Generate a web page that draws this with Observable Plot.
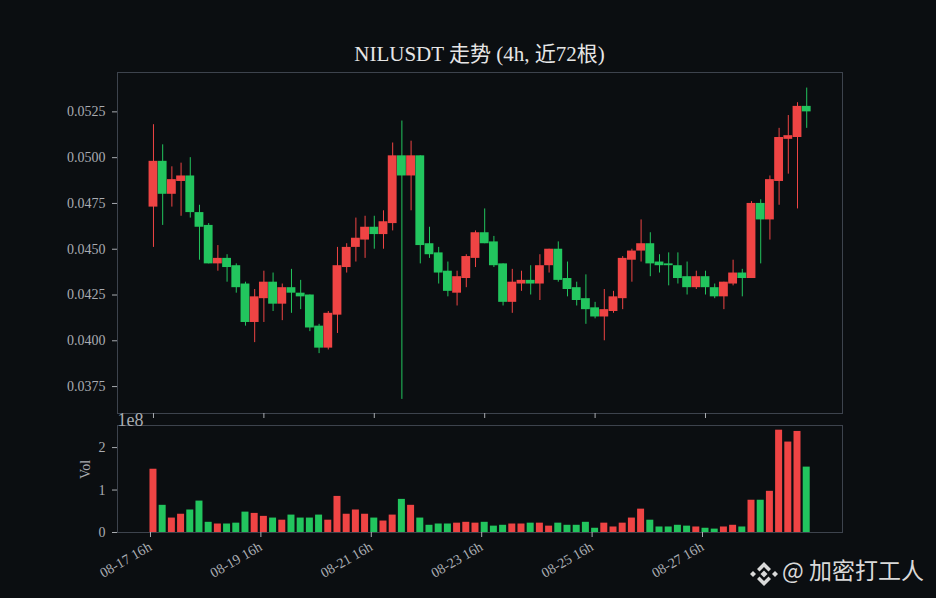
<!DOCTYPE html>
<html>
<head>
<meta charset="utf-8">
<script src="https://cdn.jsdelivr.net/npm/d3@7"></script>
<script src="https://cdn.jsdelivr.net/npm/@observablehq/plot@0.6"></script>
<style>
  html, body { margin: 0; padding: 0; background: #0b0e11; }
  #root { position: relative; width: 936px; height: 598px; background: #0b0e11; overflow: hidden; }
  #root svg { position: absolute; left: 0; overflow: visible; }
  #title { position: absolute; left: 117px; width: 725px; top: 44px; text-align: center;
    font: 21px/21px "Liberation Serif", "Noto Sans CJK SC", serif; color: #e6e6e6; white-space: nowrap; }
  #wm { position: absolute; left: 750px; top: 558px; height: 26px; color: #d9d9d9; white-space: nowrap;
    font: 23px/23px "Noto Sans CJK SC", "Noto Sans", sans-serif; }
  #wm svg { position: absolute; left: 0; top: 2px; }
  #wm span { position: absolute; left: 32px; top: 0; }
</style>
</head>
<body>
<div id="root">
  <div id="title">NILUSDT 走势 (4h, 近72根)</div>
  <div id="wm">
    <svg width="28" height="28" viewBox="0 0 28 28">
      <g fill="#d9d9d9">
        <polygon points="3,11 6,14 3,17 0,14"/>
        <polygon points="25,11 28,14 25,17 22,14"/>
        <polygon points="14,10.5 17.5,14 14,17.5 10.5,14"/>
        <polygon points="14,2 21,9 18.5,11.5 14,7 9.5,11.5 7,9"/>
        <polygon points="14,26 21,19 18.5,16.5 14,21 9.5,16.5 7,19"/>
      </g>
    </svg>
    <span>@ 加密打工人</span>
  </div>
</div>
<script>
// ---- data (4h candles, 08-17 16h .. 08-29 12h) ----
const open = [0.0473,0.0498,0.0480,0.0487,0.0490,0.0470,0.0463,0.0442,0.0445,0.0441,0.0431,0.0410,0.0423,0.0432,0.0420,0.0429,0.0426,0.0425,0.0408,0.0396,0.0414,0.0440,0.0451,0.0455,0.0462,0.0458,0.0464,0.0501,0.0490,0.0501,0.0453,0.0448,0.0438,0.0426,0.0434,0.0445,0.0459,0.0454,0.0442,0.0421,0.0431,0.0433,0.0431,0.0441,0.0450,0.0434,0.0429,0.0423,0.0418,0.0413,0.0416,0.0423,0.0444,0.0449,0.0453,0.0443,0.0442,0.0441,0.0435,0.0429,0.0435,0.0429,0.0424,0.0431,0.0437,0.0434,0.0475,0.0466,0.0487,0.0510,0.0511,0.0528];
const high = [0.0518,0.0507,0.0495,0.0497,0.0500,0.0474,0.0464,0.0452,0.0447,0.0442,0.0432,0.0428,0.0438,0.0437,0.0431,0.0439,0.0433,0.0425,0.0409,0.0416,0.0451,0.0453,0.0467,0.0468,0.0468,0.0471,0.0508,0.0520,0.0509,0.0501,0.0462,0.0451,0.0443,0.0438,0.0447,0.0460,0.0472,0.0457,0.0442,0.0439,0.0438,0.0441,0.0447,0.0450,0.0454,0.0443,0.0432,0.0436,0.0421,0.0428,0.0427,0.0446,0.0450,0.0466,0.0459,0.0447,0.0448,0.0448,0.0443,0.0438,0.0438,0.0431,0.0432,0.0444,0.0439,0.0476,0.0477,0.0490,0.0516,0.0523,0.0530,0.0538];
const low = [0.0451,0.0463,0.0473,0.0468,0.0467,0.0444,0.0442,0.0438,0.0432,0.0426,0.0408,0.0399,0.0410,0.0416,0.0411,0.0415,0.0417,0.0405,0.0393,0.0395,0.0404,0.0437,0.0443,0.0445,0.0450,0.0450,0.0460,0.0368,0.0471,0.0442,0.0445,0.0431,0.0424,0.0419,0.0429,0.0440,0.0453,0.0440,0.0419,0.0415,0.0427,0.0425,0.0422,0.0437,0.0432,0.0424,0.0419,0.0409,0.0412,0.0400,0.0415,0.0417,0.0432,0.0443,0.0435,0.0437,0.0430,0.0431,0.0425,0.0428,0.0425,0.0423,0.0417,0.0430,0.0424,0.0434,0.0442,0.0455,0.0474,0.0491,0.0472,0.0516];
const close = [0.0498,0.0480,0.0488,0.0490,0.0470,0.0462,0.0442,0.0445,0.0440,0.0429,0.0410,0.0424,0.0432,0.0420,0.0429,0.0426,0.0424,0.0407,0.0396,0.0415,0.0441,0.0451,0.0456,0.0462,0.0458,0.0465,0.0501,0.0490,0.0501,0.0452,0.0447,0.0437,0.0427,0.0435,0.0446,0.0459,0.0453,0.0441,0.0421,0.0432,0.0433,0.0431,0.0441,0.0450,0.0433,0.0428,0.0422,0.0417,0.0413,0.0417,0.0424,0.0445,0.0449,0.0453,0.0442,0.0441,0.0441,0.0434,0.0429,0.0435,0.0429,0.0424,0.0432,0.0437,0.0434,0.0475,0.0466,0.0488,0.0511,0.0512,0.0528,0.0525];
const volume = [149e6,64e6,34e6,43e6,53e6,74e6,24e6,20e6,20e6,22e6,48e6,45e6,38e6,34e6,29e6,41e6,34e6,34e6,41e6,29e6,85e6,43e6,53e6,43e6,34e6,27e6,41e6,78e6,64e6,34e6,17e6,20e6,20e6,22e6,24e6,22e6,24e6,15e6,17e6,20e6,20e6,22e6,22e6,15e6,22e6,17e6,17e6,24e6,10e6,22e6,13e6,22e6,34e6,55e6,29e6,13e6,13e6,17e6,15e6,13e6,10e6,8e6,13e6,17e6,13e6,76e6,76e6,97e6,241e6,213e6,238e6,154e6];
const tickIdx = [0, 12, 24, 36, 48, 60];
const tickLabels = ["08-17 16h", "08-19 16h", "08-21 16h", "08-23 16h", "08-25 16h", "08-27 16h"];
const priceTicks = [0.0375, 0.0400, 0.0425, 0.0450, 0.0475, 0.0500, 0.0525];
const volTicks = [0, 1e8, 2e8];

const UP = "#ef4444", DOWN = "#22c55e";
const idx = d3.range(open.length);
const col = i => close[i] >= open[i] ? UP : DOWN;
const xDomain = [-3.91, 74.89];
const font = `"Liberation Serif", "Noto Sans CJK SC", serif`;
const style = {background: "transparent", color: "#a9acb1", fontFamily: font, fontSize: "14px", overflow: "visible"};

const main = Plot.plot({
  width: 936, height: 420,
  marginLeft: 117, marginRight: 94, marginTop: 72, marginBottom: 7,
  style,
  x: {domain: xDomain},
  y: {domain: [0.03603, 0.05465]},
  color: {type: "identity"},
  marks: [
    Plot.frame({stroke: "#3d434d"}),
    Plot.axisY(priceTicks, {tickSize: 5, tickPadding: 7, tickFormat: d3.format(".4f"), label: null, fontSize: 14}),
    Plot.axisX(tickIdx, {tickSize: 5, tickFormat: () => "", label: null}),
    Plot.ruleX(idx, {x: i => i, y1: i => low[i], y2: i => high[i], stroke: col, strokeWidth: 1}),
    Plot.rect(idx, {x1: i => i - 0.48, x2: i => i + 0.48,
      y1: i => Math.min(open[i], close[i]), y2: i => Math.max(open[i], close[i]), fill: col})
  ]
});
main.style.top = "0px";

const vol = Plot.plot({
  width: 936, height: 198,
  marginLeft: 117, marginRight: 94, marginTop: 25, marginBottom: 66,
  style,
  x: {domain: xDomain},
  y: {domain: [0, 2.52e8]},
  color: {type: "identity"},
  marks: [
    Plot.frame({stroke: "#3d434d"}),
    Plot.axisY(volTicks, {tickSize: 5, tickPadding: 7, tickFormat: d => d / 1e8, label: null, fontSize: 14}),
    Plot.axisX(tickIdx, {tickSize: 5, tickPadding: 8, tickRotate: -30, label: null, fontSize: 14, dx: -3,
      tickFormat: d => tickLabels[tickIdx.indexOf(d)]}),
    Plot.rectY(idx, {x1: i => i - 0.38, x2: i => i + 0.38, y: i => volume[i], fill: col}),
    Plot.text(["Vol"], {frameAnchor: "left", dx: -32, rotate: -90, fontSize: 14, fill: "#a9acb1"}),
    Plot.text(["1e8"], {frameAnchor: "top-left", textAnchor: "start", dy: -12, fontSize: 18, fill: "#a9acb1"})
  ]
});
vol.style.top = "400px";

const root = document.getElementById("root");
root.appendChild(main);
root.appendChild(vol);
</script>
</body>
</html>
